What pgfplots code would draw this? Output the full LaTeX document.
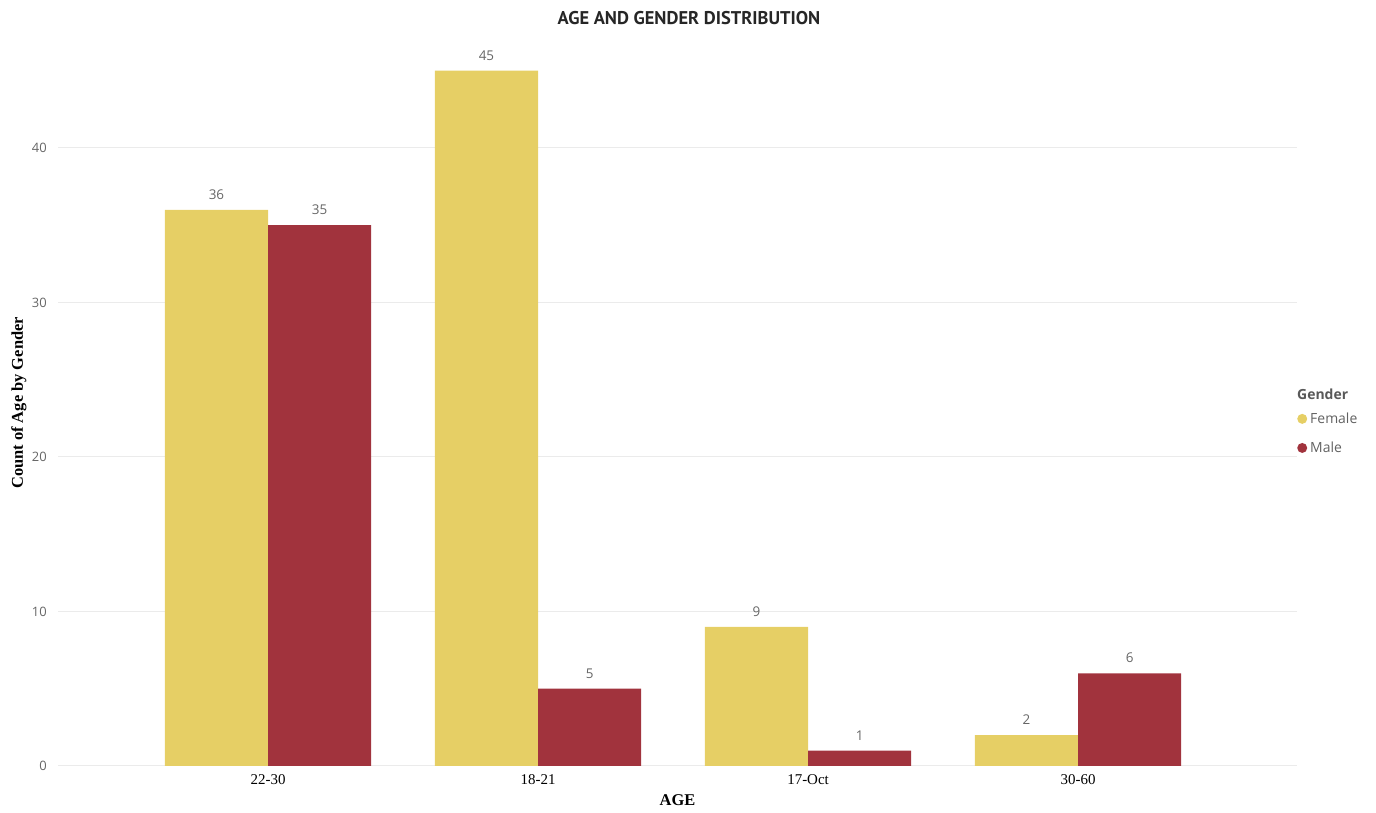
\documentclass[border=0pt]{standalone}
\usepackage{fontspec}
\setmainfont{Liberation Serif}
\newfontfamily\uisans{Open Sans}
\newfontfamily\titlefont{PT Sans}
\usepackage{pgfplots}
\pgfplotsset{compat=1.18}

\definecolor{female}{HTML}{E6CF65}
\definecolor{male}{HTML}{A1333D}
\definecolor{gridc}{HTML}{EBEBEB}
\definecolor{labc}{HTML}{666666}

\begin{document}
\begin{tikzpicture}
\useasboundingbox (0bp,0bp) rectangle (1376bp,813bp);
\node[font=\titlefont\bfseries\fontsize{18.5}{20}\selectfont, text=black!85] at (689bp,795bp) {AGE AND GENDER DISTRIBUTION};
\begin{axis}[
  at={(58bp,47bp)}, anchor=south west,
  scale only axis, width=1239bp, height=726.2bp,
  xmin=-0.778, xmax=3.811, ymin=0, ymax=47,
  clip=false,
  axis line style={draw=none},
  major tick length=0pt,
  ytick={0,10,20,30,40},
  ymajorgrids, grid style={gridc, line width=1bp},
  xtick={0,1,2,3},
  xticklabels={22-30,18-21,17-Oct,30-60},
  /pgf/number format/assume math mode=true,
  yticklabel style={font=\uisans\fontsize{13}{15}\selectfont, text=labc, inner sep=0pt, xshift=-11bp},
  xticklabel style={font=\fontsize{15}{17}\selectfont, inner sep=0pt, yshift=-8bp},
  xlabel={\textbf{AGE}},
  xlabel style={font=\fontsize{16.5}{18}\selectfont, at={(rel axis cs:0.5,0)}, anchor=center, yshift=-34bp},
  ylabel={\textbf{Count of Age by Gender}},
  ylabel style={font=\fontsize{16.5}{18}\selectfont, at={(rel axis cs:0,0.5)}, anchor=center, yshift=39bp},
  ybar=0pt, bar width=0.382,
  nodes near coords,
  every node near coord/.append style={font=\uisans\fontsize{13.5}{15}\selectfont, text=labc, inner sep=0pt, yshift=10bp},
  legend style={at={(rel axis cs:1,0.458)}, anchor=west, draw=none, fill=none,
    font=\uisans\fontsize{14}{16}\selectfont, text=black!62, inner sep=0pt,
    row sep=17bp, cells={anchor=west},
    nodes={inner xsep=3bp, inner ysep=0pt}},
]
\addplot[fill=female, draw=none,
  legend image code/.code={\fill[female] (4.5bp,0bp) circle (5bp);}]
  coordinates {(0,36) (1,45) (2,9) (3,2)};
\addlegendentry{Female}
\addplot[fill=male, draw=none,
  legend image code/.code={\fill[male] (4.5bp,0bp) circle (5bp);}]
  coordinates {(0,35) (1,5) (2,1) (3,6)};
\addlegendentry{Male}
\node[anchor=west, inner sep=0pt, font=\uisans\bfseries\fontsize{14}{16}\selectfont, text=black!65]
  at (rel axis cs:1,0.512) {Gender};
\end{axis}
\end{tikzpicture}
\end{document}
